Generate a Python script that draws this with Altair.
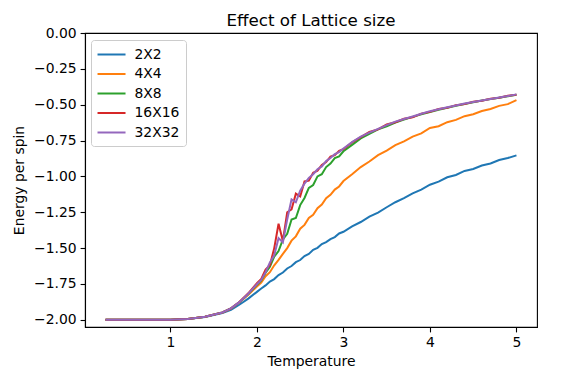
import altair as alt
import pandas as pd

# Temperature grid
temps = [0.25, 0.5, 0.75, 1.0, 1.2, 1.4, 1.6, 1.7, 1.8, 1.9,
         2.0, 2.05, 2.1, 2.15, 2.2, 2.25, 2.3, 2.35, 2.4, 2.45,
         2.5, 2.55, 2.6, 2.65, 2.7, 2.75, 2.8, 2.85, 2.9, 2.95,
         3.0, 3.1, 3.2, 3.3, 3.4, 3.5, 3.6, 3.7, 3.8, 3.9,
         4.0, 4.1, 4.2, 4.3, 4.4, 4.5, 4.6, 4.7, 4.8, 4.9, 5.0]

e_2x2 = [-2.000, -2.000, -2.000, -1.999, -1.994, -1.981, -1.953, -1.930, -1.893, -1.852,
         -1.805, -1.782, -1.760, -1.733, -1.716, -1.688, -1.670, -1.642, -1.625, -1.598,
         -1.583, -1.555, -1.540, -1.512, -1.498, -1.472, -1.458, -1.437, -1.423, -1.398,
         -1.386, -1.348, -1.318, -1.280, -1.252, -1.215, -1.180, -1.152, -1.118, -1.092,
         -1.058, -1.036, -1.006, -0.990, -0.962, -0.948, -0.924, -0.910, -0.886, -0.872, -0.853]

e_4x4 = [-2.000, -2.000, -2.000, -1.999, -1.994, -1.979, -1.950, -1.922, -1.878, -1.826,
         -1.768, -1.740, -1.696, -1.668, -1.620, -1.582, -1.540, -1.500, -1.448, -1.418,
         -1.365, -1.338, -1.290, -1.268, -1.222, -1.196, -1.152, -1.128, -1.092, -1.070,
         -1.032, -0.985, -0.935, -0.896, -0.852, -0.820, -0.782, -0.756, -0.722, -0.700,
         -0.662, -0.650, -0.622, -0.606, -0.580, -0.566, -0.544, -0.530, -0.508, -0.496, -0.468]

e_8x8 = [-2.000, -2.000, -2.000, -1.999, -1.994, -1.979, -1.949, -1.921, -1.876, -1.820,
         -1.755, -1.725, -1.672, -1.630, -1.560, -1.520, -1.440, -1.400, -1.300, -1.290,
         -1.200, -1.150, -1.080, -1.060, -1.000, -0.985, -0.935, -0.910, -0.872, -0.860,
         -0.825, -0.780, -0.735, -0.704, -0.672, -0.650, -0.624, -0.604, -0.585, -0.567,
         -0.551, -0.536, -0.521, -0.507, -0.495, -0.483, -0.471, -0.461, -0.451, -0.441, -0.431]

e_16x16 = [-2.000, -2.000, -2.000, -1.999, -1.994, -1.979, -1.949, -1.920, -1.874, -1.815,
           -1.745, -1.715, -1.650, -1.620, -1.500, -1.330, -1.450, -1.250, -1.230, -1.120,
           -1.140, -1.035, -1.030, -0.975, -0.960, -0.920, -0.900, -0.862, -0.852, -0.822,
           -0.810, -0.762, -0.726, -0.690, -0.672, -0.638, -0.622, -0.598, -0.588, -0.562,
           -0.550, -0.530, -0.522, -0.503, -0.496, -0.479, -0.472, -0.458, -0.452, -0.438, -0.430]

e_32x32 = [-2.000, -2.000, -2.000, -1.999, -1.994, -1.979, -1.949, -1.920, -1.875, -1.818,
           -1.752, -1.722, -1.668, -1.600, -1.550, -1.430, -1.460, -1.300, -1.160, -1.180,
           -1.100, -1.050, -1.010, -0.985, -0.950, -0.930, -0.893, -0.872, -0.845, -0.830,
           -0.805, -0.760, -0.722, -0.695, -0.668, -0.642, -0.618, -0.600, -0.582, -0.563,
           -0.545, -0.532, -0.518, -0.505, -0.492, -0.481, -0.470, -0.460, -0.450, -0.440, -0.428]

series_names = ["2X2", "4X4", "8X8", "16X16", "32X32"]
series_values = [e_2x2, e_4x4, e_8x8, e_16x16, e_32x32]
series_colors = ["#1f77b4", "#ff7f0e", "#2ca02c", "#d62728", "#9467bd"]

x_ticks = [1, 2, 3, 4, 5]
y_ticks = [-2.0, -1.75, -1.5, -1.25, -1.0, -0.75, -0.5, -0.25, 0.0]

rows = []
for k, (name, vals) in enumerate(zip(series_names, series_values)):
    for t, e in zip(temps, vals):
        rows.append({"Temperature": t, "Energy": e, "Size": name, "order": k})
df = pd.DataFrame(rows)

FONT = "DejaVu Sans"

chart = alt.Chart(df).mark_line(strokeWidth=2).encode(
    x=alt.X("Temperature:Q",
            scale=alt.Scale(domain=[0.0125, 5.2375], nice=False, zero=False),
            axis=alt.Axis(values=x_ticks, format="d", title="Temperature")),
    y=alt.Y("Energy:Q",
            scale=alt.Scale(domain=[-2.05, 0.0], nice=False, zero=False),
            axis=alt.Axis(values=y_ticks, format=".2f", title="Energy per spin")),
    color=alt.Color("Size:N",
                    scale=alt.Scale(domain=series_names, range=series_colors),
                    sort=series_names,
                    legend=alt.Legend(title=None, orient="none", legendX=6, legendY=7,
                                      symbolType="M-1.14,0H2.86", symbolSize=196,
                                      symbolStrokeWidth=2, labelFontSize=13.9,
                                      labelFont=FONT, labelColor="black",
                                      labelOffset=21, rowPadding=4.5, padding=6.5,
                                      strokeColor="#cccccc", fillColor="white",
                                      cornerRadius=3)),
    detail="order:O",
    order="order:O",
).properties(
    width=452, height=294,
    title=alt.TitleParams("Effect of Lattice size", font=FONT, fontSize=16.7,
                          fontWeight="normal", color="black", anchor="middle",
                          frame="group", offset=0, dy=3.5),
    autosize=alt.AutoSizeParams(type="none"),
    padding={"left": 77, "top": 25, "right": 16, "bottom": 49},
).configure_axis(
    labelFont=FONT, labelFontSize=13.9, labelColor="black",
    titleFont=FONT, titleFontSize=13.9, titleFontWeight="normal", titleColor="black",
    tickSize=4.9, tickColor="black", tickWidth=1.1,
    domainColor="black", domainWidth=1.1, grid=False, labelPadding=4,
).configure_axisX(titlePadding=5).configure_axisY(titlePadding=7).configure_view(
    stroke="black", strokeWidth=1.1
)

chart.save("out.html", embed_options={"renderer": "svg", "actions": False})
